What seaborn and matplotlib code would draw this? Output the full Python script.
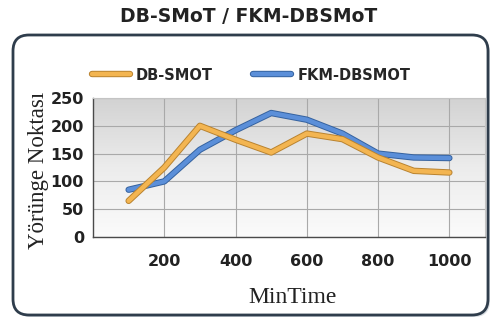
import numpy as np
import pandas as pd
import matplotlib
matplotlib.use("Agg")
import matplotlib.pyplot as plt
import matplotlib.patheffects as pe
from matplotlib.colors import LinearSegmentedColormap
from matplotlib.lines import Line2D
from matplotlib.patches import FancyBboxPatch
from matplotlib.transforms import IdentityTransform
import seaborn as sns

# MinTime values and trajectory-point counts per method
min_time = [100, 200, 300, 400, 500, 600, 700, 800, 900, 1000]
db_smot = [65, 125, 200, 175, 152, 186, 176, 143, 119, 116]
fkm_dbsmot = [85, 100, 157, 192, 223, 211, 186, 150, 143, 142]
series_names = ["DB-SMOT", "FKM-DBSMOT"]
x_ticks = [200, 400, 600, 800, 1000]
y_ticks = [0, 50, 100, 150, 200, 250]

df = pd.DataFrame({
    "MinTime": min_time * 2,
    "value": db_smot + fkm_dbsmot,
    "series": [series_names[0]] * len(min_time) + [series_names[1]] * len(min_time),
})

sns.set_style("white")
plt.rcParams["font.family"] = ["DejaVu Sans"]

W, H = 498, 320
fig = plt.figure(figsize=(W / 100, H / 100), dpi=100)
fig.patch.set_facecolor("white")

# rounded chart-area frame (pixel coordinates)
shadow = FancyBboxPatch((15, H - 317), 475, 280,
                        boxstyle="round,pad=0,rounding_size=16",
                        transform=IdentityTransform(), facecolor="#d8dde2",
                        edgecolor="none", zorder=0)
frame = FancyBboxPatch((13, H - 315), 475, 280,
                       boxstyle="round,pad=0,rounding_size=16",
                       transform=IdentityTransform(), facecolor="white",
                       edgecolor="#2f3d4c", linewidth=2.0, zorder=1)
fig.patches.extend([shadow, frame])

ax = fig.add_axes([93 / W, 1 - 237 / H, (485 - 93) / W, (237 - 98) / H])
ax.set_zorder(2)

xlim = (0, 1100)
ylim = (0, 250)

# vertical gradient background of the plot area
grad_cmap = LinearSegmentedColormap.from_list("plotbg", ["#fbfbfb", "#ececec", "#d2d2d2"])
ax.imshow(np.linspace(0, 1, 256).reshape(-1, 1), cmap=grad_cmap, origin="lower",
          extent=[xlim[0], xlim[1], ylim[0], ylim[1]], aspect="auto", zorder=0)

palette = {"DB-SMOT": "#f3b551", "FKM-DBSMOT": "#5b8fd9"}
edges = {"DB-SMOT": "#b98330", "FKM-DBSMOT": "#35629f"}

sns.lineplot(data=df, x="MinTime", y="value", hue="series",
             hue_order=series_names, palette=palette, linewidth=3.2,
             legend=False, ax=ax)

for line, name in zip(ax.lines, series_names):
    line.set_path_effects([pe.Stroke(linewidth=4.6, foreground=edges[name]), pe.Normal()])
    line.set_solid_joinstyle("round")
    line.set_zorder(4 if name == "DB-SMOT" else 3)

ax.set_xlim(*xlim)
ax.set_ylim(*ylim)
ax.set_xticks(x_ticks)
ax.set_yticks(y_ticks)
ax.set_axisbelow(True)
ax.grid(True, color="#a9a9a9", linewidth=0.8)

for side in ["left", "bottom"]:
    ax.spines[side].set_color("#4a4a4a")
    ax.spines[side].set_linewidth(1.0)
for side in ["top", "right"]:
    ax.spines[side].set_color("#c4c4c4")
    ax.spines[side].set_linewidth(0.8)

ax.tick_params(axis="both", direction="inout", length=5, width=1, color="#4a4a4a",
               labelsize=11.5, labelcolor="#222222")
ax.tick_params(axis="x", pad=10)
ax.tick_params(axis="y", pad=4)
for lab in ax.get_xticklabels() + ax.get_yticklabels():
    lab.set_fontweight("bold")

ax.set_xlabel("MinTime", fontfamily="Liberation Serif", fontsize=17, color="#222222")
ax.set_ylabel("Yörünge Noktası", fontfamily="Liberation Serif", fontsize=16.5, color="#222222")
ax.xaxis.set_label_coords(0.508, -0.36)
ax.yaxis.set_label_coords(-0.112, 0.48)

handles = [
    Line2D([0], [0], color=palette[n], linewidth=3.2,
           path_effects=[pe.Stroke(linewidth=4.6, foreground=edges[n]), pe.Normal()])
    for n in series_names
]
ax.legend(handles, series_names, loc="center", bbox_to_anchor=(0.403, 1.165),
          ncol=2, frameon=False, handlelength=2.6, columnspacing=2.8, handletextpad=0.4,
          prop={"family": "DejaVu Sans", "weight": "bold", "size": 10.5})

fig.text(249 / W, 1 - 16 / H, "DB-SMoT / FKM-DBSMoT", ha="center", va="center",
         fontsize=13.5, fontweight="bold", color="#222222")

fig.savefig("out.png", dpi=100)
